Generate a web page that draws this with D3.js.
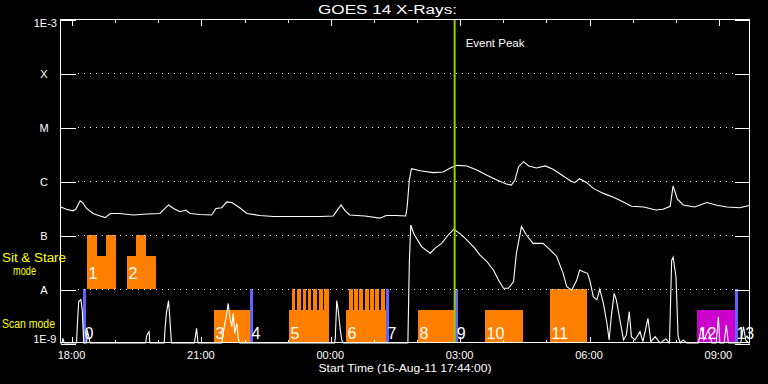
<!DOCTYPE html>
<html><head><meta charset="utf-8">
<script src="https://cdn.jsdelivr.net/npm/d3@7"></script>
<style>html,body{margin:0;padding:0;background:#000;overflow:hidden}text{font-family:"Liberation Sans",Arial,sans-serif}</style>
</head><body><svg id="c" width="768" height="384"></svg>
<script>
// ---------- data ----------
const startTime = "17:44:00";
const endTime = "09:44:00";
const chartTitle = "GOES 14 X-Rays:";
const xTitle = "Start Time (16-Aug-11 17:44:00)";
const xTickLabels = ["18:00","21:00","00:00","03:00","06:00","09:00"];
const xMinorTicks = ["18:00","19:00","20:00","21:00","22:00","23:00","00:00","01:00","02:00","03:00","04:00","05:00","06:00","07:00","08:00","09:00"];
const yTickValues = [1e-9,1e-8,1e-7,1e-6,1e-5,1e-4,1e-3];
const yTickLabels = ["1E-9","A","B","C","M","X","1E-3"];
const gridValues = [1e-8,1e-7,1e-6,1e-5,1e-4];
const eventPeakTime = "02:53:05";
const eventLabel = "Event Peak";
const modeLabels = ["Sit & Stare","mode","Scan mode"];

// GOES long channel (1-8 A)
const longTimes = ["17:45","17:53","18:02","18:06","18:12","18:16","18:21","18:30","18:40","18:47","18:54","19:07","19:26","19:45","20:03","20:15","20:22","20:31","20:39","20:45","20:59","21:15","21:21","21:29","21:36","21:43","21:54","22:04","22:22","22:41","23:03","23:18","23:46","00:04","00:09","00:15","00:20","00:27","00:48","01:09","01:18","01:32","01:45","01:47","01:50","01:53","02:05","02:23","02:37","02:47","02:56","03:10","03:24","03:38","03:52","04:05","04:12","04:17","04:22","04:29","04:36","04:47","04:59","05:10","05:22","05:34","05:40","05:47","05:57","06:06","06:20","06:34","06:48","06:59","07:16","07:33","07:43","07:53","07:57","08:03","08:11","08:27","08:44","08:58","09:12","09:30","09:44"];
const longFlux = [3.3e-7,3.0e-7,2.8e-7,3.0e-7,4.3e-7,3.9e-7,3.1e-7,2.5e-7,2.25e-7,2.1e-7,2.5e-7,2.5e-7,2.35e-7,2.45e-7,2.5e-7,3.6e-7,3.1e-7,2.7e-7,2.9e-7,2.5e-7,2.4e-7,2.35e-7,3.1e-7,3.2e-7,4.1e-7,4.0e-7,3.2e-7,2.5e-7,2.3e-7,2.2e-7,2.2e-7,2.2e-7,2.2e-7,2.25e-7,2.8e-7,3.6e-7,2.9e-7,2.35e-7,2.25e-7,2.05e-7,2.3e-7,2.3e-7,2.25e-7,3.3e-7,1.04e-6,1.69e-6,1.55e-6,1.43e-6,1.47e-6,1.74e-6,1.95e-6,1.9e-6,1.6e-6,1.28e-6,1.04e-6,8.8e-7,8.4e-7,1.04e-6,1.84e-6,2.28e-6,1.9e-6,1.74e-6,1.9e-6,1.65e-6,1.29e-6,1.01e-6,9.3e-7,1.1e-6,9.3e-7,7.3e-7,5.9e-7,5.0e-7,4.1e-7,3.4e-7,3.3e-7,2.9e-7,3.0e-7,3.4e-7,8.1e-7,4.6e-7,3.6e-7,3.3e-7,4.0e-7,3.55e-7,3.3e-7,3.2e-7,3.55e-7];

// GOES short channel (0.5-4 A); values under 1E-9 sit on the axis
const shortTimes = ["17:44","17:47","17:48","17:50","18:07","18:08","18:10","18:13","18:15","18:17","18:21","18:22","18:26","19:43","19:45","19:48","19:49","20:09","20:10","20:12","20:15","20:17","20:19","20:51","20:52","20:54","20:56","21:29","21:31","21:36","21:38","21:40","21:43","21:45","21:47","21:50","21:52","21:54","00:06","00:07","00:09","00:11","00:14","00:16","00:18","01:48","01:50","01:52","01:56","02:07","02:19","02:26","02:35","02:44","02:52","03:00","03:10","03:21","03:28","03:38","03:47","03:54","04:01","04:08","04:15","04:19","04:26","04:33","04:42","04:56","05:06","05:15","05:24","05:29","05:36","05:43","05:47","05:52","05:58","06:01","06:06","06:11","06:15","06:20","06:25","06:28","06:31","06:35","06:38","06:43","06:48","06:52","06:56","06:59","07:04","07:11","07:15","07:22","07:26","07:32","07:39","07:47","07:52","07:55","07:57","08:01","08:04","08:07","08:11","08:16","08:32","08:37","08:40","08:46","08:51","08:57","09:00","09:02","09:08","09:11","09:14","09:31","09:35","09:38","09:42","09:44"];
const shortFlux = [8e-10,8e-10,1.22e-9,8e-10,8e-10,2.0e-9,5.8e-9,6.4e-9,4.1e-9,8e-10,8e-10,1.74e-9,8e-10,8e-10,1.41e-9,1.62e-9,8e-10,8e-10,1.74e-9,3.55e-9,6.1e-9,2.67e-9,8e-10,8e-10,1.22e-9,1.87e-9,8e-10,8e-10,1.51e-9,3.55e-9,5.4e-9,3.3e-9,2.0e-9,3.55e-9,1.51e-9,2.3e-9,1.22e-9,8e-10,8e-10,1.22e-9,6.1e-9,4.1e-9,1.74e-9,1.14e-9,8e-10,8e-10,3e-8,1.53e-7,1.07e-7,6.1e-8,4.6e-8,5.7e-8,7.0e-8,1.0e-7,1.28e-7,1.07e-7,8.1e-8,5.7e-8,4.3e-8,3.2e-8,2.25e-8,1.47e-8,1.03e-8,1.03e-8,1.37e-8,4.6e-8,1.43e-7,1.0e-7,7.0e-8,7.0e-8,5.3e-8,4.0e-8,1.95e-8,1.1e-8,9.6e-9,1.47e-8,2.25e-8,2.09e-8,1.95e-8,1.47e-8,7.2e-9,6.3e-9,9.9e-9,5.4e-9,2.3e-9,1.14e-9,3.07e-9,8.3e-9,6.3e-9,2.67e-9,1.14e-9,1.41e-9,3.8e-9,1.31e-9,1.14e-9,1.62e-9,1.06e-9,2.87e-9,1.06e-9,1.31e-9,8e-10,1.19e-9,8e-10,3.4e-8,3.9e-8,1.69e-8,1.31e-9,8e-10,1.14e-9,8e-10,8e-10,2.0e-9,1.14e-9,1.74e-9,8e-10,8e-10,3.07e-9,8e-10,8e-10,2.15e-9,8e-10,8e-10,2.0e-9,1.14e-9,8e-10,8e-10];

// Sit & Stare observations (between A and B levels)
const sitStareId = ["1","2"];
const sitStareSegStart = [["18:21:35","18:35:30","18:47:35"],["19:17:10","19:30:10","19:44:05"]];
const sitStareSegEnd   = [["18:35:30","18:47:35","19:01:30"],["19:30:10","19:44:05","19:57:05"]];
const sitStareSegTop   = [[1e-7,4.1e-8,1e-7],[4.1e-8,1e-7,4.1e-8]];
const sitStareBase = 1e-8;

// Scan mode observations
const scanId    = ["3","5","6","8","10","11","12"];
const scanStart = ["21:18:15","23:02:35","00:21:55","02:02:05","03:35:20","05:05:45","08:30:20"];
const scanEnd   = ["22:08:20","23:58:15","01:17:35","02:52:10","04:28:10","05:57:10","09:23:05"];
const scanTop   = [4.1e-9,4.1e-9,4.1e-9,4.1e-9,4.1e-9,1e-8,4.1e-9];
const scanType  = ["raster","raster","raster","raster","raster","raster","other"];
const scanBase = 1e-9;
// narrow rasters within scans 5 and 6
const rasterStart = ["23:06:50","23:14:10","23:21:40","23:29:00","23:36:25","23:43:55","23:51:20","00:25:40","00:33:00","00:40:25","00:47:55","00:55:20","01:02:40","01:10:10"];
const rasterEnd   = ["23:11:25","23:18:55","23:26:20","23:33:35","23:41:05","23:49:30","23:57:55","00:31:10","00:38:35","00:46:00","00:53:30","01:00:55","01:08:10","01:16:35"];
const rasterTop = 1e-8;
// short markers
const markerId    = ["0","4","7","9","13"];
const markerStart = ["18:16:00","22:08:20","01:17:35","02:54:00","09:23:05"];
const markerEnd   = ["18:19:45","22:12:05","01:21:20","02:57:40","09:26:55"];
const markerTop = 1e-8;

// ---------- helpers ----------
function T(s){const p=s.split(":").map(Number);const day=p[0]>=17?16:17;return new Date(Date.UTC(2011,7,day,p[0],p[1],p[2]||0));}

const W=768,H=384, L=60,R=750,TOP=19,BOT=343;
const svg=d3.select("#c");
svg.append("rect").attr("width",W).attr("height",H).attr("fill","#000");

const x=d3.scaleUtc().domain([T(startTime),T(endTime)]).range([L,R]);
const y=d3.scaleLog().domain([1e-9,1e-3]).range([BOT,TOP]).clamp(true);
const typeColor=d3.scaleOrdinal().domain(["raster","other"]).range(["#ff8000","#cc00cc"]);

const g=svg.append("g");

// Sit & Stare blocks
sitStareId.forEach((id,i)=>{
  g.selectAll(null).data(sitStareSegStart[i].map((s,j)=>({s:T(s),e:T(sitStareSegEnd[i][j]),top:sitStareSegTop[i][j]})))
   .enter().append("rect").attr("fill","#ff8000").attr("shape-rendering","crispEdges")
   .attr("x",d=>x(d.s)).attr("width",d=>x(d.e)-x(d.s))
   .attr("y",d=>y(d.top)).attr("height",d=>y(sitStareBase)-y(d.top));
});
// scan blocks
g.selectAll(null).data(scanId.map((id,i)=>({id,s:T(scanStart[i]),e:T(scanEnd[i]),top:scanTop[i],type:scanType[i]})))
 .enter().append("rect").attr("shape-rendering","crispEdges")
 .attr("fill",d=>typeColor(d.type))
 .attr("x",d=>x(d.s)).attr("width",d=>x(d.e)-x(d.s))
 .attr("y",d=>y(d.top)).attr("height",d=>y(scanBase)-y(d.top));
g.selectAll(null).data(rasterStart.map((s,i)=>({s:T(s),e:T(rasterEnd[i])})))
 .enter().append("rect").attr("shape-rendering","crispEdges").attr("fill","#ff8000")
 .attr("x",d=>x(d.s)).attr("width",d=>x(d.e)-x(d.s))
 .attr("y",y(rasterTop)).attr("height",y(scanBase)-y(rasterTop));
g.selectAll(null).data(markerId.map((id,i)=>({id,s:T(markerStart[i]),e:T(markerEnd[i])})))
 .enter().append("rect").attr("shape-rendering","crispEdges").attr("fill","#6262ff")
 .attr("x",d=>x(d.s)).attr("width",d=>x(d.e)-x(d.s))
 .attr("y",y(markerTop)).attr("height",y(scanBase)-y(markerTop));

// grid (dotted)
g.selectAll(null).data(gridValues).enter().append("line")
 .attr("x1",L+18).attr("x2",R-15).attr("y1",d=>Math.round(y(d))+0.5).attr("y2",d=>Math.round(y(d))+0.5)
 .attr("stroke","#fff").attr("stroke-width",1).attr("stroke-dasharray","1,5").attr("shape-rendering","crispEdges");

// curves
const line=d3.line().x(d=>x(d.t)).y(d=>y(d.v));
g.append("path").datum(longTimes.map((t,i)=>({t:T(t),v:longFlux[i]})))
 .attr("d",line).attr("fill","none").attr("stroke","#fff").attr("stroke-width",1.1);
g.append("path").datum(shortTimes.map((t,i)=>({t:T(t),v:shortFlux[i]})))
 .attr("d",line).attr("fill","none").attr("stroke","#fff").attr("stroke-width",1.1);

// event peak
g.append("line").attr("x1",x(T(eventPeakTime))).attr("x2",x(T(eventPeakTime)))
 .attr("y1",TOP).attr("y2",BOT).attr("stroke","#9acd00").attr("stroke-width",2);
g.append("text").attr("x",x(T(eventPeakTime))+11).attr("y",46.5).attr("fill","#fff")
 .attr("font-size",11.5).text(eventLabel);

// numeric labels
const numFont=16;
g.selectAll(null).data(sitStareId.map((id,i)=>({id,s:T(sitStareSegStart[i][0])})))
 .enter().append("text").attr("fill","#fff").attr("font-size",numFont)
 .attr("x",d=>x(d.s)+1.5).attr("y",y(sitStareBase)-10.5).text(d=>d.id);
g.selectAll(null).data(scanId.map((id,i)=>({id,s:T(scanStart[i])})).concat(markerId.map((id,i)=>({id,s:T(markerStart[i])}))))
 .enter().append("text").attr("fill","#fff").attr("font-size",numFont)
 .attr("x",d=>x(d.s)+1.5).attr("y",y(scanBase)-4.5).text(d=>d.id);

// axes
const ax=svg.append("g").attr("transform","translate(0.5,0.5)");
const majorTicks=xTickLabels.map(T), minorTicks=xMinorTicks.map(T);
function styleAxis(sel){sel.selectAll(".domain").remove();sel.selectAll("line").attr("stroke","#fff").attr("shape-rendering","crispEdges");sel.selectAll("text").remove();}
ax.append("g").attr("transform",`translate(0,${TOP})`).call(d3.axisBottom(x).tickValues(minorTicks).tickSize(3)).call(styleAxis);
ax.append("g").attr("transform",`translate(0,${TOP})`).call(d3.axisBottom(x).tickValues(majorTicks).tickSize(6)).call(styleAxis);
ax.append("g").attr("transform",`translate(0,${BOT-1})`).call(d3.axisTop(x).tickValues(minorTicks).tickSize(3)).call(styleAxis);
ax.append("g").attr("transform",`translate(0,${BOT-1})`).call(d3.axisTop(x).tickValues(majorTicks).tickSize(6)).call(styleAxis);
ax.append("g").attr("transform",`translate(${L},0)`).call(d3.axisRight(y).tickValues(yTickValues).tickSize(15)).call(styleAxis);
ax.append("g").attr("transform",`translate(${R-1},0)`).call(d3.axisLeft(y).tickValues(yTickValues).tickSize(15)).call(styleAxis);
// frame
ax.append("rect").attr("x",L).attr("y",TOP).attr("width",R-L-1).attr("height",BOT-TOP-1)
 .attr("fill","none").attr("stroke","#fff").attr("shape-rendering","crispEdges");

// tick labels
svg.selectAll(null).data(xTickLabels).enter().append("text")
 .attr("x",d=>x(T(d))).attr("y",358.5).attr("text-anchor","middle").attr("fill","#fff").attr("font-size",11).text(d=>d);
yTickLabels.forEach((lab,i)=>{
  const v=yTickValues[i], yy=y(v);
  const t=svg.append("text").attr("fill","#fff").attr("font-size",11).text(lab);
  if(i===0) t.attr("x",56.5).attr("y",yy-0.5).attr("text-anchor","end");
  else if(i===yTickValues.length-1) t.attr("x",57).attr("y",yy+7.5).attr("text-anchor","end");
  else t.attr("x",44).attr("y",yy+4.5).attr("text-anchor","middle");
});

// titles
svg.append("text").attr("x",318).attr("y",14).attr("fill","#fff").attr("font-size",12)
 .attr("textLength",139).attr("lengthAdjust","spacingAndGlyphs").text(chartTitle);
svg.append("text").attr("x",405).attr("y",371.5).attr("text-anchor","middle").attr("fill","#fff").attr("font-size",11)
 .attr("textLength",173).attr("lengthAdjust","spacingAndGlyphs").text(xTitle);
// mode labels
svg.append("text").attr("x",2).attr("y",262).attr("fill","#ffff00").attr("font-size",12).attr("textLength",64).attr("lengthAdjust","spacingAndGlyphs").text(modeLabels[0]);
svg.append("text").attr("x",13).attr("y",274.5).attr("fill","#ffff00").attr("font-size",12).attr("textLength",23).attr("lengthAdjust","spacingAndGlyphs").text(modeLabels[1]);
svg.append("text").attr("x",2).attr("y",327.5).attr("fill","#ffff00").attr("font-size",12).attr("textLength",53).attr("lengthAdjust","spacingAndGlyphs").text(modeLabels[2]);
</script></body></html>
